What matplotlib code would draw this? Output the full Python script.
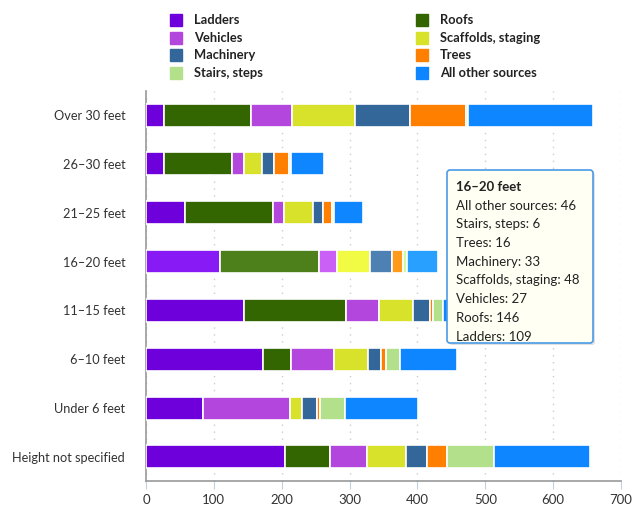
import numpy as np
import matplotlib.pyplot as plt
from matplotlib.patches import FancyBboxPatch, Rectangle
from matplotlib.colors import to_rgb

plt.rcParams['font.family'] = ['Lato', 'DejaVu Sans']

heights = ["Over 30 feet", "26–30 feet", "21–25 feet", "16–20 feet",
           "11–15 feet", "6–10 feet", "Under 6 feet", "Height not specified"]
series_names = ["Ladders", "Roofs", "Vehicles", "Scaffolds, staging",
                "Machinery", "Trees", "Stairs, steps", "All other sources"]
ladders = [27, 26, 57, 109, 144, 173, 84, 205]
roofs = [127, 100, 130, 146, 151, 41, 0, 66]
vehicles = [61, 18, 16, 27, 49, 63, 128, 54]
scaffolds = [93, 27, 43, 48, 50, 50, 18, 58]
machinery = [81, 18, 15, 33, 24, 20, 22, 31]
trees = [83, 22, 13, 16, 5, 7, 4, 30]
stairs = [3, 3, 3, 6, 14, 20, 37, 69]
other = [183, 49, 43, 46, 40, 84, 108, 142]
colors = ["#6e00dc", "#336600", "#b246dd", "#d8e22a",
          "#336699", "#ff8000", "#b3e08a", "#0d86ff"]
hovered = "16–20 feet"

values = [ladders, roofs, vehicles, scaffolds, machinery, trees, stairs, other]


def brighten(c, amt=0.1):
    r, g, b = to_rgb(c)
    return tuple(min(1, v + amt) for v in (r, g, b))


fig = plt.figure(figsize=(6.33, 5.09), dpi=100)
ax = fig.add_axes([146 / 633, 1 - 481.4 / 509, 475 / 633, 390.8 / 509])

y = np.arange(len(heights))
left = np.zeros(len(heights))
hi = heights.index(hovered)
for name, vals, col in zip(series_names, values, colors):
    bars = ax.barh(y, vals, left=left, height=0.47, color=col,
                   edgecolor='white', linewidth=1.2, zorder=3)
    bars[hi].set_facecolor(brighten(col))
    left += np.array(vals)

ax.set_ylim(len(heights) - 0.5, -0.5)
ax.set_xlim(0, 700)
ax.set_xticks(range(0, 701, 100))
ax.set_yticks(y)
ax.set_yticklabels(heights, fontsize=9.2, color='#333333')
ax.tick_params(axis='y', length=0, pad=15)
ax.tick_params(axis='x', length=6, color='#c0d0e0', labelsize=9.5,
               labelcolor='#333333', pad=3)
ax.grid(axis='x', linestyle=(0, (1, 4)), color='#cccccc', linewidth=1, zorder=0)
for s in ['top', 'right']:
    ax.spines[s].set_visible(False)
ax.spines['left'].set_color('#999999')
ax.spines['bottom'].set_color('#999999')
ax.spines['left'].set_linewidth(1.2)
ax.spines['bottom'].set_linewidth(1.2)

# legend, two columns
for i, (name, col) in enumerate(zip(series_names, colors)):
    cx = [170, 416][i % 2]
    cy = 20 + (i // 2) * 17.7
    fig.patches.append(Rectangle((cx / 633, 1 - (cy + 6) / 509), 12 / 633, 12 / 509,
                                 transform=fig.transFigure, color=col))
    fig.text((cx + 24) / 633, 1 - cy / 509, name, fontsize=9.3, fontweight='bold',
             color='#222222', va='center', ha='left')

# tooltip for the hovered row
bx0, by0, bw, bh = 447, 170, 146, 173
fig.patches.append(FancyBboxPatch((bx0 + 2, 509 - by0 - bh - 2), bw, bh,
                                  boxstyle="round,pad=0,rounding_size=3",
                                  transform=None, facecolor='black', alpha=0.12,
                                  edgecolor='none', zorder=9))
fig.patches.append(FancyBboxPatch((bx0, 509 - by0 - bh), bw, bh,
                                  boxstyle="round,pad=0,rounding_size=3",
                                  transform=None, facecolor='#fffff4',
                                  edgecolor='#4a9be8', linewidth=1.2, zorder=10))
lines = [(hovered, 'bold')]
for name, vals in reversed(list(zip(series_names, values))):
    lines.append((f"{name}: {vals[hi]}", 'normal'))
for k, (txt, wt) in enumerate(lines):
    fig.text(456 / 633, 1 - (187 + k * 18.7) / 509, txt, fontsize=9.5,
             fontweight=wt, color='#222222', va='center', ha='left', zorder=11)

fig.savefig("out.png", dpi=100)
